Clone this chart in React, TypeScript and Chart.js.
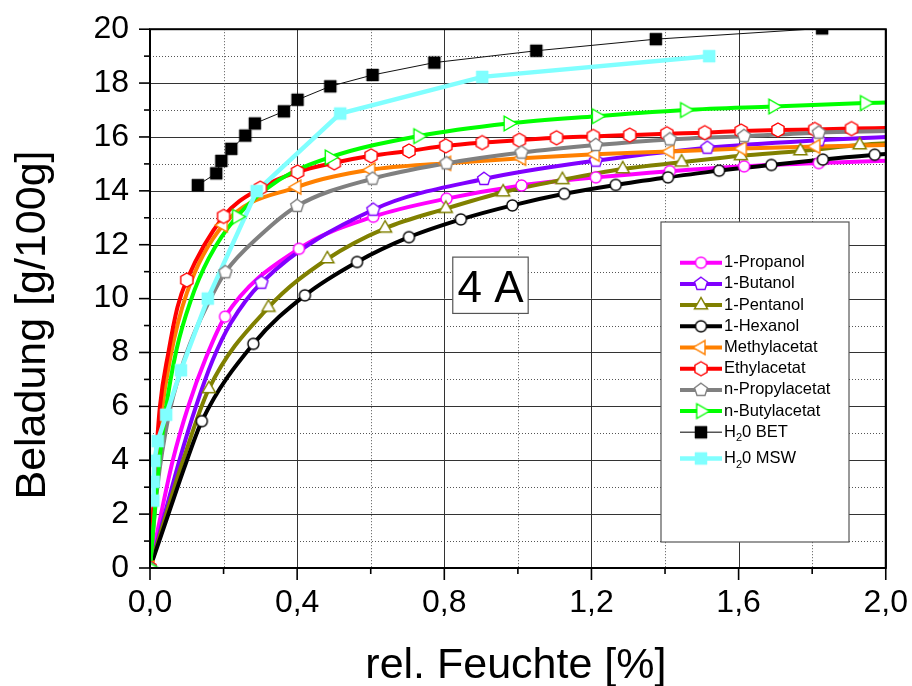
import React, { useEffect, useRef } from 'react';
import { Chart, registerables } from 'chart.js';

Chart.register(...registerables);

const FONT = '"Liberation Sans", Arial, Helvetica, sans-serif';

// ---------- axes ----------
const xMajor = [0, 0.4, 0.8, 1.2, 1.6, 2.0];
const xTickLabels = ['0,0', '0,4', '0,8', '1,2', '1,6', '2,0'];
const yMajor = [0, 2, 4, 6, 8, 10, 12, 14, 16, 18, 20];
const yTickLabels = ['0', '2', '4', '6', '8', '10', '12', '14', '16', '18', '20'];
const xTitle = 'rel. Feuchte [%]';
const yTitle = 'Beladung [g/100g]';
const boxText = '4 A';

// ---------- series (marker points + extra points) ----------
const propanolMarkX = [0, 0.204, 0.405, 0.607, 0.806, 1.01, 1.212, 1.413, 1.615, 1.818];
const propanolMarkY = [0, 9.33, 11.85, 13.04, 13.71, 14.2, 14.5, 14.73, 14.91, 15.03];
const propanolLineX = [0.03, 0.062, 0.104, 0.152, 2.0];
const propanolLineY = [2, 4, 6, 7.8, 15.12];

const butanolMarkX = [0, 0.303, 0.607, 0.908, 1.212, 1.515, 1.818];
const butanolMarkY = [0, 10.59, 13.3, 14.44, 15.12, 15.6, 15.88];
const butanolLineX = [0.04, 0.08, 0.125, 0.17, 0.22, 2.0];
const butanolLineY = [2, 4, 6, 7.7, 9.1, 16.0];

const pentanolMarkX = [0, 0.16, 0.322, 0.482, 0.639, 0.804, 0.96, 1.121, 1.285, 1.445, 1.606, 1.768, 1.929];
const pentanolMarkY = [0, 6.65, 9.67, 11.47, 12.61, 13.34, 13.95, 14.41, 14.81, 15.06, 15.3, 15.48, 15.7];
const pentanolLineX = [0.044, 0.09, 2.0];
const pentanolLineY = [2, 4, 15.77];

const hexanolMarkX = [0, 0.141, 0.281, 0.421, 0.563, 0.704, 0.845, 0.985, 1.126, 1.266, 1.408, 1.547, 1.689, 1.829, 1.97];
const hexanolMarkY = [0, 5.45, 8.32, 10.12, 11.36, 12.28, 12.94, 13.46, 13.89, 14.22, 14.5, 14.75, 14.96, 15.16, 15.34];
const hexanolLineX = [0.05, 0.098, 2.0];
const hexanolLineY = [2, 3.9, 15.37];

const methylMarkX = [0, 0.199, 0.399, 0.6, 0.806, 1.01, 1.21, 1.413, 1.61, 1.81];
const methylMarkY = [0, 12.73, 14.14, 14.78, 15.02, 15.21, 15.36, 15.46, 15.57, 15.65];
const methylLineX = [0.017, 0.03, 0.055, 0.1, 2.0];
const methylLineY = [3.7, 5.6, 7.8, 10.2, 15.7];

const ethylMarkX = [0, 0.1, 0.2, 0.3, 0.401, 0.501, 0.601, 0.704, 0.804, 0.903, 1.004, 1.105, 1.205, 1.304, 1.405, 1.508, 1.607, 1.707, 1.807, 1.907];
const ethylMarkY = [0, 10.69, 13.05, 14.1, 14.7, 15.04, 15.3, 15.48, 15.67, 15.79, 15.88, 15.97, 16.02, 16.07, 16.12, 16.16, 16.22, 16.26, 16.28, 16.31];
const ethylLineX = [0.016, 0.027, 0.05, 0.075, 2.0];
const ethylLineY = [4, 6, 8, 9.7, 16.33];

const propylMarkX = [0, 0.205, 0.4, 0.605, 0.806, 1.01, 1.212, 1.413, 1.615, 1.818];
const propylMarkY = [0, 10.98, 13.44, 14.45, 15.02, 15.42, 15.7, 15.91, 16.03, 16.16];
const propylLineX = [0.02, 0.05, 0.085, 0.12, 0.157, 0.3, 2.0];
const propylLineY = [3, 5.6, 7.4, 8.7, 9.8, 12.35, 16.22];

const butylMarkX = [0, 0.236, 0.488, 0.729, 0.974, 1.214, 1.454, 1.694, 1.943];
const butylMarkY = [0, 13.04, 15.24, 16.03, 16.5, 16.77, 17.0, 17.13, 17.26];
const butylLineX = [0.022, 0.042, 0.072, 0.11, 0.16, 0.35, 2.0];
const butylLineY = [3.5, 5.8, 8.1, 9.9, 11.5, 14.4, 17.28];

const betX = [0.13, 0.18, 0.194, 0.221, 0.259, 0.285, 0.364, 0.401, 0.49, 0.605, 0.773, 1.05, 1.375, 1.827];
const betY = [14.21, 14.65, 15.11, 15.56, 16.05, 16.5, 16.95, 17.38, 17.88, 18.3, 18.76, 19.2, 19.63, 20.03];

const mswX = [0.009, 0.01, 0.012, 0.021, 0.044, 0.084, 0.157, 0.29, 0.517, 0.903, 1.52];
const mswY = [2.5, 3.2, 3.98, 4.71, 5.69, 7.34, 10.0, 13.99, 16.87, 18.23, 19.0];

type Def = {
  label: string;
  color: string;
  lineWidth: number;
  smooth: boolean;
  markX: number[];
  markY: number[];
  lineX: number[];
  lineY: number[];
  shape: string;
  size: number;
  fill: string;
  stroke: string;
};

const defs: Def[] = [
  { label: '1-Propanol', color: '#FF00FF', lineWidth: 4, smooth: true, markX: propanolMarkX, markY: propanolMarkY, lineX: propanolLineX, lineY: propanolLineY, shape: 'circle', size: 5.5, fill: '#fff', stroke: '#FF00FF' },
  { label: '1-Butanol', color: '#8000FF', lineWidth: 4, smooth: true, markX: butanolMarkX, markY: butanolMarkY, lineX: butanolLineX, lineY: butanolLineY, shape: 'pentagon', size: 6.8, fill: '#fff', stroke: '#8000FF' },
  { label: '1-Pentanol', color: '#808000', lineWidth: 4, smooth: true, markX: pentanolMarkX, markY: pentanolMarkY, lineX: pentanolLineX, lineY: pentanolLineY, shape: 'triUp', size: 7.6, fill: '#fff', stroke: '#808000' },
  { label: '1-Hexanol', color: '#000000', lineWidth: 4, smooth: true, markX: hexanolMarkX, markY: hexanolMarkY, lineX: hexanolLineX, lineY: hexanolLineY, shape: 'circle', size: 5.5, fill: '#fff', stroke: '#000000' },
  { label: 'Methylacetat', color: '#FF8000', lineWidth: 4, smooth: true, markX: methylMarkX, markY: methylMarkY, lineX: methylLineX, lineY: methylLineY, shape: 'triLeft', size: 8, fill: '#fff', stroke: '#FF8000' },
  { label: 'Ethylacetat', color: '#FF0000', lineWidth: 4, smooth: true, markX: ethylMarkX, markY: ethylMarkY, lineX: ethylLineX, lineY: ethylLineY, shape: 'hexagon', size: 7, fill: '#fff', stroke: '#FF0000' },
  { label: 'n-Propylacetat', color: '#808080', lineWidth: 4, smooth: true, markX: propylMarkX, markY: propylMarkY, lineX: propylLineX, lineY: propylLineY, shape: 'pentagon', size: 6.8, fill: '#fff', stroke: '#808080' },
  { label: 'n-Butylacetat', color: '#00FF00', lineWidth: 4, smooth: true, markX: butylMarkX, markY: butylMarkY, lineX: butylLineX, lineY: butylLineY, shape: 'triRight', size: 8.5, fill: '#fff', stroke: '#00FF00' },
  { label: 'H₂0 BET', color: '#111111', lineWidth: 1, smooth: false, markX: betX, markY: betY, lineX: [], lineY: [], shape: 'square', size: 6, fill: '#000', stroke: '#000' },
  { label: 'H₂0 MSW', color: '#80FFFF', lineWidth: 4.5, smooth: false, markX: mswX, markY: mswY, lineX: [], lineY: [], shape: 'square', size: 6, fill: '#80FFFF', stroke: '#80FFFF' },
];

function makeMarker(shape: string, size: number, stroke: string, fill: string, lw: number): HTMLCanvasElement {
  const pad = Math.ceil(lw) + 1;
  const dim = Math.ceil(size * 2 + pad * 2);
  const c = document.createElement('canvas');
  c.width = dim;
  c.height = dim;
  const g = c.getContext('2d') as CanvasRenderingContext2D;
  const cx = dim / 2;
  const cy = dim / 2;
  g.beginPath();
  if (shape === 'circle') {
    g.arc(cx, cy, size, 0, Math.PI * 2);
  } else if (shape === 'square') {
    g.rect(cx - size, cy - size, size * 2, size * 2);
  } else {
    let n = 3;
    let a0 = -90;
    if (shape === 'triLeft') a0 = 180;
    if (shape === 'triRight') a0 = 0;
    if (shape === 'pentagon') n = 5;
    if (shape === 'hexagon') n = 6;
    for (let i = 0; i < n; i++) {
      const a = ((a0 + (360 / n) * i) * Math.PI) / 180;
      const px = cx + size * Math.cos(a);
      const py = cy + size * Math.sin(a);
      if (i === 0) g.moveTo(px, py);
      else g.lineTo(px, py);
    }
    g.closePath();
  }
  g.fillStyle = fill;
  g.fill();
  g.lineWidth = lw;
  g.strokeStyle = stroke;
  g.stroke();
  return c;
}

const isMajor = (list: number[], v: number) => list.some((m) => Math.abs(m - v) < 1e-6);
const labelFor = (list: number[], labels: string[], v: number) => {
  const i = list.findIndex((m) => Math.abs(m - v) < 1e-6);
  return i >= 0 ? labels[i] : '';
};

export default function App() {
  const ref = useRef<HTMLCanvasElement>(null);

  useEffect(() => {
    const canvas = ref.current as HTMLCanvasElement;
    const markers = defs.map((d) => makeMarker(d.shape, d.size, d.stroke, d.fill, d.shape === 'square' ? 0.5 : 1.4));

    const datasets: any[] = [];
    defs.forEach((d, i) => {
      const pts = d.markX.map((x, k) => ({ x, y: d.markY[k] }))
        .concat(d.lineX.map((x, k) => ({ x, y: d.lineY[k] })))
        .sort((a, b) => a.x - b.x);
      datasets.push({
        label: d.label,
        data: pts,
        borderColor: d.color,
        backgroundColor: d.color,
        borderWidth: d.lineWidth,
        pointRadius: 0,
        fill: false,
        tension: 0,
        cubicInterpolationMode: d.smooth ? 'monotone' : 'default',
        order: 20 - i,
      });
    });
    defs.forEach((d, i) => {
      datasets.push({
        label: d.label + ' marker',
        data: d.markX.map((x, k) => ({ x, y: d.markY[k] })),
        showLine: false,
        pointStyle: markers[i],
        pointRadius: 6,
        borderColor: d.stroke,
        backgroundColor: d.fill,
        order: 10 - i,
      });
    });

    const decor = {
      id: 'decor',
      beforeDatasetsDraw(chart: any) {
        const { ctx, chartArea: a, scales } = chart;
        const xs = scales.x;
        const ys = scales.y;
        ctx.save();
        ctx.lineWidth = 1;
        ys.ticks.forEach((t: any) => {
          const py = Math.round(ys.getPixelForValue(t.value)) + 0.5;
          const major = isMajor(yMajor, t.value);
          ctx.strokeStyle = major ? '#333' : '#555';
          ctx.setLineDash(major ? [] : [1, 2]);
          ctx.beginPath();
          ctx.moveTo(a.left, py);
          ctx.lineTo(a.right, py);
          ctx.stroke();
        });
        xs.ticks.forEach((t: any) => {
          const px = Math.round(xs.getPixelForValue(t.value)) + 0.5;
          const major = isMajor(xMajor, t.value);
          ctx.strokeStyle = major ? '#333' : '#555';
          ctx.setLineDash(major ? [] : [1, 2]);
          ctx.beginPath();
          ctx.moveTo(px, a.top);
          ctx.lineTo(px, a.bottom);
          ctx.stroke();
        });
        ctx.restore();
      },
      afterDatasetsDraw(chart: any) {
        const { ctx, chartArea: a, scales } = chart;
        const xs = scales.x;
        const ys = scales.y;
        ctx.save();

        // "4 A" box (data coordinates)
        const bx0 = xs.getPixelForValue(0.823);
        const bx1 = xs.getPixelForValue(1.028);
        const by0 = ys.getPixelForValue(11.54);
        const by1 = ys.getPixelForValue(9.45);
        ctx.fillStyle = '#fff';
        ctx.fillRect(bx0, by0, bx1 - bx0, by1 - by0);
        ctx.strokeStyle = '#555';
        ctx.lineWidth = 1.2;
        ctx.strokeRect(bx0, by0, bx1 - bx0, by1 - by0);
        ctx.fillStyle = '#000';
        ctx.font = `44px ${FONT}`;
        ctx.textAlign = 'center';
        ctx.textBaseline = 'alphabetic';
        ctx.fillText(boxText, (bx0 + bx1) / 2, by0 + 45);

        // legend box
        const lx0 = 661;
        const ly0 = 222;
        const lx1 = 849;
        const ly1 = 542;
        ctx.fillStyle = '#fff';
        ctx.fillRect(lx0, ly0, lx1 - lx0, ly1 - ly0);
        ctx.strokeStyle = '#555';
        ctx.lineWidth = 1.2;
        ctx.strokeRect(lx0, ly0, lx1 - lx0, ly1 - ly0);
        defs.forEach((d, i) => {
          const yy = 262.7 + i * 21.2 + (i === 9 ? 5 : 0);
          const isBet = d.shape === 'square' && d.fill === '#000';
          ctx.strokeStyle = isBet ? '#555' : d.color;
          ctx.lineWidth = isBet ? 1.5 : d.lineWidth;
          ctx.beginPath();
          ctx.moveTo(680, yy);
          ctx.lineTo(722, yy);
          ctx.stroke();
          const m = markers[i];
          ctx.drawImage(m, 701 - m.width / 2, yy - m.height / 2);
          ctx.fillStyle = '#000';
          ctx.textAlign = 'left';
          ctx.textBaseline = 'middle';
          const parts = d.label.split('₂');
          let tx = 724;
          ctx.font = `16.5px ${FONT}`;
          ctx.fillText(parts[0], tx, yy);
          if (parts.length > 1) {
            tx += ctx.measureText(parts[0]).width;
            ctx.font = `11px ${FONT}`;
            ctx.fillText('2', tx, yy + 6);
            tx += ctx.measureText('2').width;
            ctx.font = `16.5px ${FONT}`;
            ctx.fillText(parts[1], tx, yy);
          }
        });

        // tick marks
        ctx.strokeStyle = '#000';
        ctx.lineWidth = 1.6;
        ys.ticks.forEach((t: any) => {
          const py = ys.getPixelForValue(t.value);
          const len = isMajor(yMajor, t.value) ? 11 : 6;
          ctx.beginPath();
          ctx.moveTo(a.left - len, py);
          ctx.lineTo(a.left, py);
          ctx.stroke();
        });
        xs.ticks.forEach((t: any) => {
          const px = xs.getPixelForValue(t.value);
          const len = isMajor(xMajor, t.value) ? 12 : 6;
          ctx.beginPath();
          ctx.moveTo(px, a.bottom);
          ctx.lineTo(px, a.bottom + len);
          ctx.stroke();
        });

        // frame
        ctx.lineWidth = 2;
        ctx.strokeRect(a.left, a.top, a.right - a.left, a.bottom - a.top);

        // axis titles
        ctx.fillStyle = '#000';
        ctx.font = `43px ${FONT}`;
        ctx.textAlign = 'center';
        ctx.textBaseline = 'alphabetic';
        ctx.fillText(xTitle, (a.left + a.right) / 2 - 2, 678);
        ctx.translate(45, 325);
        ctx.rotate(-Math.PI / 2);
        ctx.fillText(yTitle, 0, 0);
        ctx.restore();
      },
    };

    const chart = new Chart(canvas, {
      type: 'line',
      data: { datasets },
      plugins: [decor],
      options: {
        responsive: false,
        animation: false,
        events: [],
        layout: { padding: { left: 0, top: 24, right: 26, bottom: 0 } },
        plugins: { legend: { display: false }, tooltip: { enabled: false } },
        scales: {
          x: {
            type: 'linear',
            min: 0,
            max: 2,
            afterFit: (s: any) => {
              s.height = 118;
            },
            ticks: {
              stepSize: 0.2,
              autoSkip: false,
              maxRotation: 0,
              padding: 4,
              color: '#000',
              font: { family: FONT, size: 32 },
              callback: (v: any) => labelFor(xMajor, xTickLabels, Number(v)),
            },
            grid: {
              color: 'rgba(0,0,0,0)',
              lineWidth: 1,
              tickLength: 12,
              tickWidth: 0,
            },
            border: { display: false },
          },
          y: {
            type: 'linear',
            min: 0,
            max: 20,
            afterFit: (s: any) => {
              s.width = 150;
            },
            ticks: {
              stepSize: 1,
              autoSkip: false,
              padding: 10,
              color: '#000',
              font: { family: FONT, size: 32 },
              callback: (v: any) => labelFor(yMajor, yTickLabels, Number(v)),
            },
            grid: {
              color: 'rgba(0,0,0,0)',
              lineWidth: 1,
              tickLength: 11,
              tickWidth: 0,
            },
            border: { display: false },
          },
        },
      } as any,
    });

    return () => chart.destroy();
  }, []);

  return (
    <div style={{ position: 'absolute', left: 0, top: 0, width: 912, height: 686, background: '#fff' }}>
      <canvas ref={ref} width={912} height={686} style={{ display: 'block' }} />
    </div>
  );
}
